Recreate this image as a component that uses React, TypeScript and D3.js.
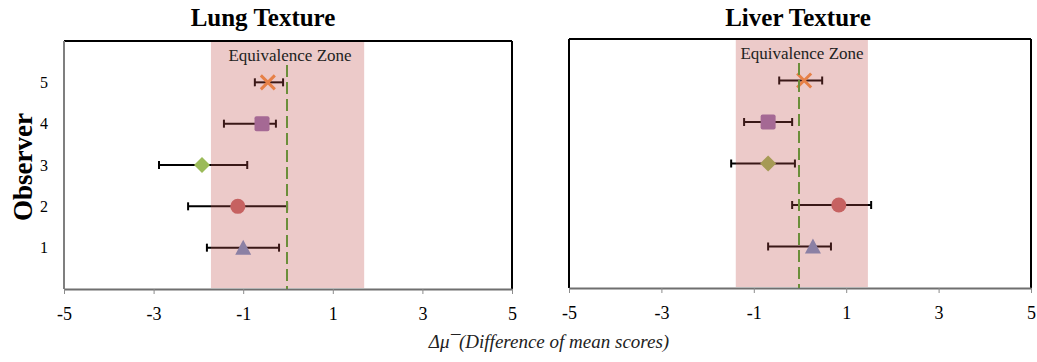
import * as d3 from 'd3'
import React, { useEffect, useRef } from 'react'

// observers 1..5 (bottom to top)
const observers = [1, 2, 3, 4, 5]
const markerShapes = ['triangle', 'circle', 'diamond', 'square', 'x']
const markerColors = ['#7595cb', '#c96a6a', '#9bbb59', '#9a74b4', '#f79646']

const lungMean = [-1.0, -1.12, -1.92, -0.58, -0.45]
const lungLow = [-1.81, -2.23, -2.88, -1.43, -0.74]
const lungHigh = [-0.2, -0.02, -0.91, -0.27, -0.11]
const lungZone = [-1.72, 1.7]

const liverMean = [0.28, 0.84, -0.69, -0.69, 0.09]
const liverLow = [-0.69, -0.17, -1.49, -1.21, -0.45]
const liverHigh = [0.67, 1.54, -0.11, -0.17, 0.48]
const liverZone = [-1.39, 1.47]

const xTicks = [-5, -3, -1, 1, 3, 5]
const yTicks = [1, 2, 3, 4, 5]

const serif = '"Liberation Serif", "Times New Roman", serif'

export default function App () {
  const ref = useRef<SVGSVGElement>(null)

  useEffect(() => {
    const width = 1037; const height = 362
    const svg = d3.select(ref.current)
    svg.selectAll('*').remove()
    svg.attr('width', width).attr('height', height).attr('viewBox', `0 0 ${width} ${height}`)

    const panels = [
      { title: 'Lung Texture', titleX: 263, x0: 64, x1: 512, y0: 41, y1: 289, mean: lungMean, low: lungLow, high: lungHigh, zone: lungZone, yLabels: true, leftColor: '#7f7f7f' },
      { title: 'Liver Texture', titleX: 798, x0: 569, x1: 1031, y0: 39, y1: 288, mean: liverMean, low: liverLow, high: liverHigh, zone: liverZone, yLabels: false, leftColor: '#000' }
    ]

    panels.forEach(p => {
      const x = d3.scaleLinear().domain([-5, 5]).range([p.x0, p.x1])
      const y = d3.scaleLinear().domain([0, 6]).range([p.y1, p.y0])
      const g = svg.append('g')

      // frame: top/right black, bottom gray axis
      g.append('line').attr('x1', p.x0).attr('x2', p.x1).attr('y1', p.y0).attr('y2', p.y0)
        .attr('stroke', '#000').attr('stroke-width', 2)
      g.append('line').attr('x1', p.x1).attr('x2', p.x1).attr('y1', p.y0).attr('y2', p.y1)
        .attr('stroke', '#000').attr('stroke-width', 2)
      g.append('line').attr('x1', p.x0).attr('x2', p.x0).attr('y1', p.y0).attr('y2', p.y1)
        .attr('stroke', p.leftColor).attr('stroke-width', 2)

      // x axis
      const xAxis = d3.axisBottom(x).tickValues(xTicks).tickSize(5).tickSizeOuter(0).tickFormat(d3.format('d'))
      const ax = g.append('g').attr('transform', `translate(0,${p.y1})`).call(xAxis)
      ax.select('.domain').attr('stroke', '#6f6f6f').attr('stroke-width', 2)
      ax.selectAll('.tick line').attr('stroke', '#8c8c8c').attr('stroke-width', 1)
      ax.selectAll('.tick text').attr('font-family', serif).attr('font-size', 18).attr('fill', '#000')
        .attr('dy', null).attr('y', 31).text((d: any) => d < 0 ? '-' + Math.abs(d) : String(d))

      if (p.yLabels) {
        g.selectAll('text.ylab').data(yTicks).enter().append('text').attr('class', 'ylab')
          .attr('x', 48).attr('y', d => y(d)).attr('dy', '0.35em').attr('text-anchor', 'end')
          .attr('font-family', serif).attr('font-size', 16).text(d => d)
      }

      // error bars
      const bars = g.selectAll('g.bar').data(observers).enter().append('g').attr('class', 'bar')
      bars.append('line').attr('x1', (d, i) => x(p.low[i])).attr('x2', (d, i) => x(p.high[i]))
        .attr('y1', d => y(d)).attr('y2', d => y(d)).attr('stroke', '#000').attr('stroke-width', 2)
      bars.append('line').attr('x1', (d, i) => x(p.low[i])).attr('x2', (d, i) => x(p.low[i]))
        .attr('y1', d => y(d) - 4).attr('y2', d => y(d) + 4).attr('stroke', '#000').attr('stroke-width', 2)
      bars.append('line').attr('x1', (d, i) => x(p.high[i])).attr('x2', (d, i) => x(p.high[i]))
        .attr('y1', d => y(d) - 4).attr('y2', d => y(d) + 4).attr('stroke', '#000').attr('stroke-width', 2)

      // markers
      observers.forEach((o, i) => {
        const cx = x(p.mean[i]); const cy = y(o)
        const c = markerColors[i]
        switch (markerShapes[i]) {
          case 'triangle':
            g.append('path').attr('d', `M${cx},${cy - 8}L${cx + 8},${cy + 7}L${cx - 8},${cy + 7}Z`).attr('fill', c)
            break
          case 'circle':
            g.append('circle').attr('cx', cx).attr('cy', cy).attr('r', 7.5).attr('fill', c)
            break
          case 'diamond':
            g.append('path').attr('d', `M${cx},${cy - 8}L${cx + 8},${cy}L${cx},${cy + 8}L${cx - 8},${cy}Z`).attr('fill', c)
            break
          case 'square':
            g.append('rect').attr('x', cx - 7.5).attr('y', cy - 7.5).attr('width', 15).attr('height', 15)
              .attr('rx', 2).attr('fill', c)
            break
          default:
            g.append('path').attr('d', `M${cx - 7},${cy - 7}L${cx + 7},${cy + 7}M${cx - 7},${cy + 7}L${cx + 7},${cy - 7}`)
              .attr('stroke', c).attr('stroke-width', 3).attr('fill', 'none')
        }
      })

      // equivalence zone overlays the data
      g.append('rect').attr('x', x(p.zone[0])).attr('y', p.y0 + 1)
        .attr('width', x(p.zone[1]) - x(p.zone[0])).attr('height', p.y1 - p.y0 - 2)
        .attr('fill', '#c0504d').attr('fill-opacity', 0.3)

      g.append('line').attr('x1', x(0) - 1).attr('x2', x(0) - 1).attr('y1', p.y0 + 24).attr('y2', p.y1)
        .attr('stroke', '#6b8e3a').attr('stroke-width', 2).attr('stroke-dasharray', '12,5')

      g.append('text').attr('x', x(0) + 2).attr('y', p.y0 + 20).attr('text-anchor', 'middle')
        .attr('font-family', serif).attr('font-size', 17).attr('fill', '#222').text('Equivalence Zone')

      g.append('text').attr('x', p.titleX).attr('y', 26).attr('text-anchor', 'middle')
        .attr('font-family', serif).attr('font-size', 25).attr('font-weight', 'bold').text(p.title)
    })

    svg.append('text').attr('transform', 'translate(32,167) rotate(-90)').attr('text-anchor', 'middle')
      .attr('font-family', serif).attr('font-size', 27).attr('font-weight', 'bold').text('Observer')

    svg.append('text').attr('x', 549).attr('y', 348).attr('text-anchor', 'middle')
      .attr('font-family', serif).attr('font-size', 19).attr('font-style', 'italic')
      .attr('fill', '#222').text('Δμ¯(Difference of mean scores)')
  }, [])

  return <svg ref={ref} style={{ position: 'absolute', left: 0, top: 0, background: '#fff' }} />
}
